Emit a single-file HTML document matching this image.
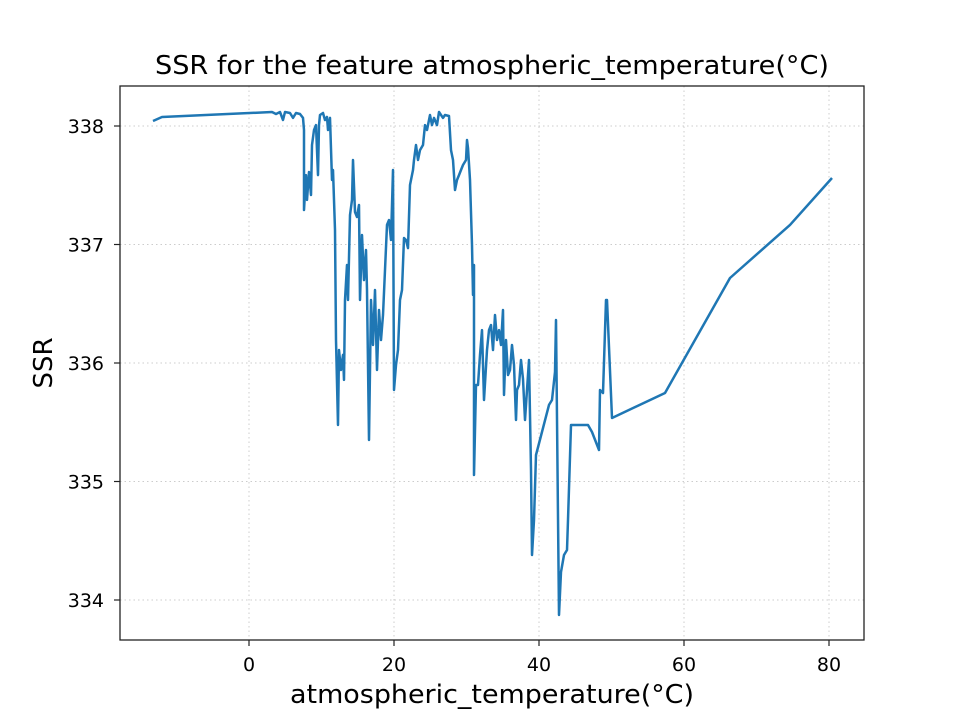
<!DOCTYPE html>
<html><head><meta charset="utf-8"><style>
html,body{margin:0;padding:0;background:#fff;}
svg{display:block;font-family:"DejaVu Sans","Liberation Sans",sans-serif;}
</style></head><body>
<svg id="chart" width="960" height="720" viewBox="0 0 960 720" xmlns="http://www.w3.org/2000/svg">
<rect x="0" y="0" width="960" height="720" fill="#fff"/>
<text x="492" y="74" font-size="26" text-anchor="middle" textLength="674" lengthAdjust="spacingAndGlyphs" fill="#000">SSR for the feature atmospheric_temperature(°C)</text>
<g id="grid"></g>
<g id="ticks"></g>
<polyline id="line" fill="none" stroke="#1f77b4" stroke-width="2.5" stroke-linejoin="round"/>
<rect x="120" y="86" width="744" height="554" fill="none" stroke="#222" stroke-width="1.3"/>
<text x="492" y="703" font-size="26" text-anchor="middle" textLength="404" lengthAdjust="spacingAndGlyphs">atmospheric_temperature(°C)</text>
<text transform="translate(52,363) rotate(-90)" font-size="26" text-anchor="middle">SSR</text>
</svg>
<script>
const xTicks=[0,20,40,60,80];
const yTicks=[334,335,336,337,338];
const xVals=[-13.24,-12.0,3.17,3.72,4.28,4.69,4.97,5.66,6.07,6.48,7.03,7.45,7.59,7.59,7.86,8.0,8.28,8.55,8.69,8.97,9.24,9.52,9.66,9.79,10.21,10.48,10.76,10.9,11.17,11.45,11.59,11.86,12.0,12.28,12.41,12.69,12.97,13.1,13.24,13.52,13.66,13.93,14.21,14.34,14.62,14.9,15.17,15.31,15.59,15.86,16.14,16.28,16.55,16.83,17.1,17.38,17.66,17.93,18.21,18.48,18.76,19.03,19.31,19.59,19.86,20.0,20.28,20.55,20.83,21.1,21.38,21.66,21.93,22.21,22.62,22.76,23.03,23.31,23.59,24.0,24.28,24.55,24.97,25.24,25.52,25.93,26.21,26.76,27.03,27.59,27.86,28.14,28.41,28.69,28.97,29.24,29.52,29.93,30.07,30.21,30.48,30.76,30.9,31.03,31.03,31.31,31.59,31.86,32.14,32.41,32.83,33.1,33.38,33.66,33.93,34.21,34.48,34.76,35.03,35.17,35.45,35.72,36.0,36.28,36.55,36.83,36.97,37.24,37.52,37.79,38.07,38.34,38.62,38.9,39.03,39.31,39.59,41.38,41.79,42.21,42.34,42.76,43.03,43.45,43.86,44.0,44.41,44.83,46.76,47.31,48.28,48.41,48.83,49.24,49.38,50.07,57.38,66.34,74.62,80.41];
const ssrVals=[338.042,338.076,338.118,338.101,338.118,338.051,338.118,338.11,338.068,338.11,338.101,338.068,337.966,337.291,337.586,337.376,337.612,337.418,337.84,337.966,338.008,337.586,338.008,338.093,338.11,338.051,338.076,337.966,338.068,337.544,337.629,337.122,336.194,335.477,336.11,335.941,336.068,335.857,336.532,336.827,336.532,337.249,337.376,337.713,337.274,337.232,337.333,336.532,337.08,336.7,336.954,336.616,335.35,336.532,336.152,336.616,335.941,336.447,336.194,336.405,336.785,337.165,337.207,337.038,337.629,335.772,335.983,336.11,336.532,336.616,337.055,337.038,336.97,337.502,337.629,337.713,337.84,337.713,337.797,337.84,338.008,337.966,338.093,338.008,338.068,338.008,338.118,338.068,338.093,338.084,337.797,337.713,337.46,337.544,337.586,337.629,337.671,337.713,337.882,337.814,337.544,336.996,336.574,336.827,335.055,335.814,335.814,336.068,336.278,335.688,336.11,336.278,336.321,336.11,336.405,336.194,336.278,336.152,336.447,335.73,336.194,335.899,335.941,336.152,335.983,335.519,335.772,335.814,336.025,335.865,335.519,335.772,336.025,335.097,334.38,334.675,335.224,335.646,335.688,335.924,336.363,333.873,334.236,334.38,334.422,334.675,335.477,335.477,335.477,335.418,335.266,335.772,335.747,336.532,336.532,335.536,335.747,336.717,337.165,337.561];
function xs(v){return 249+(v-0)*7.25;}
function ys(v){return 126+(338-v)*118.5;}
const NS='http://www.w3.org/2000/svg';
const grid=document.getElementById('grid'),ticks=document.getElementById('ticks');
function mk(tag,attrs,parent){const e=document.createElementNS(NS,tag);for(const k in attrs)e.setAttribute(k,attrs[k]);parent.appendChild(e);return e;}
xTicks.forEach(t=>{const x=xs(t);
 const g=mk('line',{x1:x,x2:x,y1:86,y2:640,stroke:'#cccccc','stroke-width':1,'stroke-dasharray':'1.5,3'},grid);
 
 
 const tk=mk('line',{x1:x,x2:x,y1:640,y2:646,stroke:'#222','stroke-width':1.2},ticks);
 
 
 const tx=mk('text',{x:x,y:671,'font-size':19,'text-anchor':'middle'},ticks);tx.textContent=t;
 
 
});
yTicks.forEach(t=>{const y=ys(t);
 const g=mk('line',{x1:120,x2:864,y1:y,y2:y,stroke:'#cccccc','stroke-width':1,'stroke-dasharray':'1.5,3'},grid);
 
 
 const tk=mk('line',{x1:114,x2:120,y1:y,y2:y,stroke:'#222','stroke-width':1.2},ticks);
 
 
 const tx=mk('text',{x:104,y:y+7,'font-size':19,'text-anchor':'end'},ticks);tx.textContent=t;
 
 
});
document.getElementById('line').setAttribute('points',xVals.map((v,i)=>xs(v).toFixed(1)+','+ys(ssrVals[i]).toFixed(1)).join(' '));
</script>
</body></html>
